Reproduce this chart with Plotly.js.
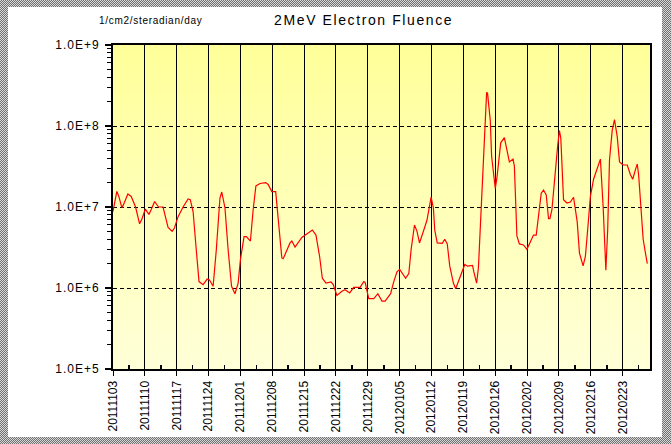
<!DOCTYPE html>
<html>
<head>
<meta charset="utf-8">
<script src="https://cdn.plot.ly/plotly-3.0.1.min.js"></script>
<style>
  body { margin: 0; width: 671px; height: 444px; overflow: hidden;
         background: repeating-conic-gradient(#707070 0 25%, #d8d8d8 0 50%) 0 0 / 2px 2px; }
  #frame { position: absolute; left: 8px; top: 7px; width: 654px; height: 430px; background: #fff; }
  #chart { position: absolute; left: 0; top: 0; width: 671px; height: 444px; }
  .ytick text { letter-spacing: 1px; }
  .gtitle { letter-spacing: 1.6px; }
  .annotation-text { letter-spacing: 0.7px; }
</style>
</head>
<body>
<div id="frame"></div>
<div id="chart"></div>
<script>
// days after 2011-11-03 00:00 UT
const dayOffsets = [
  0.0, 0.84, 1.28, 1.94, 2.3, 3.27, 4.0, 4.96, 5.84, 6.4, 7.1, 7.9, 8.4, 9.15, 10.0, 11.0,
  12.1, 13.0, 13.5, 14.3, 15.4, 16.5, 16.98, 17.6, 18.3, 18.9, 19.8, 20.7, 21.2, 22.0, 22.7,
  23.5, 23.9, 24.6, 25.3, 26.05, 26.8, 27.5, 28.0, 28.8, 29.3, 30.2, 30.8, 31.4, 32.3, 33.55,
  34.1, 34.9, 35.75, 36.3, 37.1, 37.4, 38.0, 38.9, 39.3, 40.0, 41.5, 42.6, 43.8, 44.6, 45.4,
  46.0, 46.8, 47.9, 48.4, 49.2, 50.3, 51.0, 52.0, 52.9, 54.3, 55.1, 55.4, 56.2, 57.3, 58.2,
  59.1, 59.8, 61.0, 61.7, 62.4, 63.0, 63.75, 64.3, 65.0, 65.5, 66.25, 66.8, 67.35, 67.8, 68.3,
  69.0, 69.6, 69.9, 70.4, 70.7, 71.25, 71.8, 72.35, 72.9, 73.45, 74.0, 74.8, 75.3, 76.0, 76.8,
  77.3, 77.9, 79.0, 79.3, 79.9, 80.3, 80.9, 81.4, 81.8, 82.1, 82.3, 82.9, 83.2, 83.6, 84.0,
  84.35, 84.7, 85.2, 86.0, 86.55, 87.1, 87.9, 88.2, 88.75, 89.3, 90.2, 90.95, 91.7, 92.4, 93.0,
  93.5, 94.1, 94.6, 95.2, 95.7, 96.0, 96.45, 97.2, 97.7, 98.1, 98.4, 99.0, 99.75, 100.5, 101.2,
  102.0, 102.5, 103.3, 103.8, 104.3, 104.9, 105.6, 106.4, 107.1, 107.7, 108.0, 108.3, 108.7,
  109.1, 109.7, 110.2, 110.8, 111.3, 112.1, 113.0, 113.7, 114.2, 114.8, 115.2, 115.5, 116.0,
  116.5, 117.0, 117.4
];
// 2MeV electron fluence, 1/cm2/steradian/day
const fluence = [
  8.8e6, 1.56e7, 1.35e7, 9.8e6, 1.07e7, 1.45e7, 1.35e7, 1.0e7, 6.2e6, 7.2e6, 9.4e6, 8.1e6, 9.3e6, 1.17e7, 1.0e7, 1.0e7,
  5.6e6, 5.0e6, 5.5e6, 7.6e6, 1.0e7, 1.26e7, 1.23e7, 8.8e6, 2.95e6, 1.2e6, 1.1e6, 1.29e6, 1.26e6, 1.05e6, 2.95e6,
  1.29e7, 1.53e7, 9.8e6, 2.95e6, 1.05e6, 8.5e5, 1.15e6, 2.24e6, 4.3e6, 4.3e6, 3.8e6, 9.3e6, 1.82e7, 1.95e7, 2.0e7,
  1.9e7, 1.55e7, 1.55e7, 7.6e6, 2.35e6, 2.3e6, 2.7e6, 3.6e6, 3.8e6, 3.2e6, 4.2e6, 4.7e6, 5.2e6, 4.5e6, 2.45e6,
  1.32e6, 1.15e6, 1.19e6, 1.1e6, 8.1e5, 9.1e5, 9.5e5, 8.7e5, 1.02e6, 1.02e6, 1.2e6, 1.17e6, 7.4e5, 7.4e5, 8.5e5,
  6.9e5, 6.9e5, 8.5e5, 1.2e6, 1.58e6, 1.7e6, 1.48e6, 1.32e6, 1.51e6, 2.95e6, 6.0e6, 5.0e6, 3.6e6, 4.2e6, 5.2e6,
  6.9e6, 1.07e7, 1.32e7, 9.8e6, 5.2e6, 3.6e6, 3.55e6, 3.55e6, 4.0e6, 3.5e6, 1.86e6, 1.15e6, 9.8e5, 1.26e6, 1.7e6,
  1.95e6, 1.86e6, 1.9e6, 1.58e6, 1.15e6, 1.78e6, 1.02e7, 4.7e7, 1.45e8, 2.6e8, 2.55e8, 1.17e8, 4.2e7, 2.4e7, 1.7e7,
  2.25e7, 3.5e7, 6.2e7, 7.2e7, 5.1e7, 3.6e7, 3.9e7, 3.2e7, 4.4e6, 3.5e6, 3.4e6, 3.0e6, 3.7e6, 4.5e6, 4.5e6,
  8.0e6, 1.48e7, 1.62e7, 1.41e7, 7.2e6, 7.2e6, 9.3e6, 2.9e7, 5.6e7, 8.8e7, 7.1e7, 1.23e7, 1.12e7, 1.15e7, 1.32e7,
  6.6e6, 2.7e6, 1.88e6, 2.45e6, 5.2e6, 1.35e7, 2.2e7, 2.9e7, 3.9e7, 1.02e7, 3.3e6, 1.66e6, 5.2e6,
  3.8e7, 8.9e7, 1.2e8, 7.4e7, 3.6e7, 3.3e7, 3.3e7, 2.5e7, 2.2e7, 2.9e7, 3.4e7, 2.5e7, 8.5e6,
  4.0e6, 2.7e6, 2.0e6
];
const yTickVals = [1e5, 1e6, 1e7, 1e8, 1e9];
const yTickText = ['1.0E+5', '1.0E+6', '1.0E+7', '1.0E+8', '1.0E+9'];
const startDay = Date.UTC(2011, 10, 3);
const xRange = ['2011-11-03', '2012-02-29'];

const times = dayOffsets.map(d => new Date(startDay + d * 86400000).toISOString().slice(0, 19).replace('T', ' '));

const gradSvg = '<svg xmlns="http://www.w3.org/2000/svg" width="10" height="100" preserveAspectRatio="none">' +
  '<defs><linearGradient id="g" x1="0" y1="0" x2="0" y2="1">' +
  '<stop offset="0" stop-color="#ffff99"/><stop offset="1" stop-color="#ffffd8"/></linearGradient></defs>' +
  '<rect width="10" height="100" fill="url(#g)"/></svg>';

const data = [
  {
    x: times,
    y: fluence,
    type: 'scatter',
    mode: 'lines',
    line: { color: '#ff0000', width: 1.2 },
    hoverinfo: 'skip'
  },
  // empty trace so the half-week tick axis is drawn
  { x: [], y: [], xaxis: 'x2', type: 'scatter', mode: 'lines', hoverinfo: 'skip' }
];

const layout = {
  width: 671,
  height: 444,
  margin: { l: 113, r: 21, t: 45, b: 75 },
  paper_bgcolor: 'rgba(0,0,0,0)',
  plot_bgcolor: 'rgba(0,0,0,0)',
  font: { family: 'Liberation Sans, Arial, sans-serif', color: '#000', size: 12 },
  showlegend: false,
  title: {
    text: '2MeV Electron Fluence',
    x: 0.542, xanchor: 'center',
    y: 1 - 20 / 444, yanchor: 'middle',
    font: { size: 14, color: '#000' }
  },
  annotations: [{
    text: '1/cm2/steradian/day',
    xref: 'paper', yref: 'paper',
    x: 0.069, y: 1.077, xanchor: 'center', yanchor: 'middle',
    showarrow: false,
    font: { size: 10, color: '#000' }
  }],
  images: [{
    source: 'data:image/svg+xml;charset=utf-8,' + encodeURIComponent(gradSvg),
    xref: 'paper', yref: 'paper',
    x: 0, y: 1, sizex: 1, sizey: 1,
    xanchor: 'left', yanchor: 'top',
    sizing: 'stretch', layer: 'below'
  }],
  xaxis: {
    type: 'date',
    range: xRange,
    tick0: '2011-11-03',
    dtick: 7 * 86400000,
    tickformat: '%Y%m%d',
    tickangle: -90,
    ticks: 'outside',
    ticklen: 5,
    tickwidth: 1,
    tickcolor: '#000',
    showgrid: true,
    gridcolor: '#000',
    gridwidth: 1,
    showline: true,
    linecolor: '#000',
    linewidth: 2,
    mirror: true,
    zeroline: false,
    fixedrange: true
  },
  xaxis2: {
    type: 'date',
    overlaying: 'x',
    anchor: 'y',
    side: 'bottom',
    range: xRange,
    tick0: '2011-11-06 12:00',
    dtick: 7 * 86400000,
    ticks: 'inside',
    ticklen: 4,
    tickwidth: 1.5,
    tickcolor: '#000',
    showticklabels: false,
    showgrid: false,
    showline: false,
    zeroline: false,
    fixedrange: true
  },
  yaxis: {
    type: 'log',
    range: [5, 9],
    tickmode: 'array',
    tickvals: yTickVals,
    ticktext: yTickText,
    ticks: 'outside',
    ticklen: 6,
    tickwidth: 1.5,
    tickcolor: '#000',
    ticklabelstandoff: 3,
    showgrid: true,
    gridcolor: '#000',
    gridwidth: 1,
    griddash: '4px,3px',
    showline: true,
    linecolor: '#000',
    linewidth: 2,
    mirror: true,
    zeroline: false,
    minor: { dtick: 'D1', ticks: 'outside', ticklen: 4, tickwidth: 1, tickcolor: '#000', showgrid: false },
    fixedrange: true
  }
};

Plotly.newPlot('chart', data, layout, { displayModeBar: false, staticPlot: true });
</script>
</body>
</html>
